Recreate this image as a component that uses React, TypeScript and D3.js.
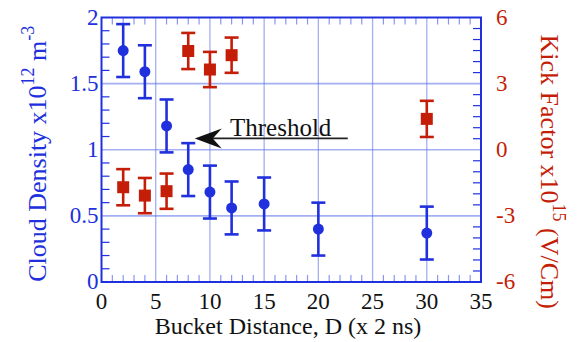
import React from 'react'
import * as d3 from 'd3'

// cloud density (x10^12 m^-3) vs bucket distance
const densityX = [2, 4, 6, 8, 10, 12, 15, 20, 30]
const densityY = [1.75, 1.59, 1.18, 0.85, 0.68, 0.56, 0.59, 0.4, 0.37]
const densityErr = [0.2, 0.2, 0.2, 0.2, 0.2, 0.2, 0.2, 0.2, 0.2]

// kick factor (x10^15 V/Cm)
const kickX = [2, 4, 6, 8, 10, 12, 30]
const kickY = [-1.7, -2.08, -1.88, 4.48, 3.64, 4.29, 1.4]
const kickErr = [0.82, 0.8, 0.8, 0.82, 0.8, 0.8, 0.82]

const xTicks = [0, 5, 10, 15, 20, 25, 30, 35]
const leftTicks = [0, 0.5, 1, 1.5, 2]
const rightTicks = [-6, -3, 0, 3, 6]

const BLUE = '#2030dd'
const RED = '#c41e08'
const GRID = 'rgba(90,110,235,0.55)'
const FONT = 'Liberation Serif'

const W = 580
const H = 342
const m = { left: 101.5, right: 481, top: 17.5, bottom: 282 }

export default function App() {
  const x = d3.scaleLinear().domain([0, 35]).range([m.left, m.right])
  const yL = d3.scaleLinear().domain([0, 2]).range([m.bottom, m.top])
  const yR = d3.scaleLinear().domain([-6, 6]).range([m.bottom, m.top])

  const xMinor = d3.range(1, 35).filter(v => v % 5 !== 0)
  const leftMinor = d3.range(1, 20).filter(v => v % 5 !== 0).map(v => v / 10)
  const rightMinor = d3.range(-11, 12).filter(v => v % 6 !== 0).map(v => v / 2)

  const cap = 7
  const arrowTipX = x(8.6)
  const arrowY = yL(1.086)

  return (
    <svg width={W} height={H} style={{ position: 'absolute', left: 0, top: 0, background: '#fff', fontFamily: FONT }}>
      {/* grid */}
      {xTicks.slice(1, -1).map(t => (
        <line key={'gx' + t} x1={x(t)} x2={x(t)} y1={m.top} y2={m.bottom} stroke={GRID} strokeWidth={1.3} />
      ))}
      {leftTicks.slice(1, -1).map(t => (
        <line key={'gy' + t} x1={m.left} x2={m.right} y1={yL(t)} y2={yL(t)} stroke={GRID} strokeWidth={1.6} />
      ))}

      {/* minor ticks */}
      {xMinor.map(t => (
        <g key={'xm' + t} stroke="rgba(60,80,230,0.6)" strokeWidth={1.2}>
          <line x1={x(t)} x2={x(t)} y1={m.bottom} y2={m.bottom - 7} />
          <line x1={x(t)} x2={x(t)} y1={m.top} y2={m.top + 7} />
        </g>
      ))}
      {leftMinor.map(t => (
        <line key={'lm' + t} x1={m.left} x2={m.left + 8} y1={yL(t)} y2={yL(t)} stroke={BLUE} strokeWidth={1.2} />
      ))}
      {rightMinor.map(t => (
        <line key={'rm' + t} x1={m.right} x2={m.right - 8} y1={yR(t)} y2={yR(t)} stroke={BLUE} strokeWidth={1.2} />
      ))}

      {/* frame */}
      <rect x={m.left} y={m.top} width={m.right - m.left} height={m.bottom - m.top}
        fill="none" stroke={BLUE} strokeWidth={2} />

      {/* tick labels */}
      {xTicks.map(t => (
        <text key={'xl' + t} fontFamily={FONT} x={x(t)} y={309} textAnchor="middle" fontSize={23} fill="#111">{t}</text>
      ))}
      {leftTicks.map(t => (
        <text key={'ll' + t} fontFamily={FONT} x={m.left - 3} y={yL(t) + 7} textAnchor="end" fontSize={23} fill={BLUE}>{t}</text>
      ))}
      {rightTicks.map(t => (
        <text key={'rl' + t} fontFamily={FONT} x={m.right + 15} y={yR(t) + 7} textAnchor="start" fontSize={23} fill={RED}>{t}</text>
      ))}

      {/* kick factor */}
      {kickX.map((d, i) => (
        <g key={'k' + i} stroke={RED} strokeWidth={2.6}>
          <line x1={x(d)} x2={x(d)} y1={yR(kickY[i] - kickErr[i])} y2={yR(kickY[i] + kickErr[i])} />
          <line x1={x(d) - cap} x2={x(d) + cap} y1={yR(kickY[i] - kickErr[i])} y2={yR(kickY[i] - kickErr[i])} />
          <line x1={x(d) - cap} x2={x(d) + cap} y1={yR(kickY[i] + kickErr[i])} y2={yR(kickY[i] + kickErr[i])} />
          <rect x={x(d) - 6} y={yR(kickY[i]) - 6} width={12} height={12} fill={RED} stroke="none" />
        </g>
      ))}

      {/* cloud density */}
      {densityX.map((d, i) => (
        <g key={'d' + i} stroke={BLUE} strokeWidth={2.6}>
          <line x1={x(d)} x2={x(d)} y1={yL(densityY[i] - densityErr[i])} y2={yL(densityY[i] + densityErr[i])} />
          <line x1={x(d) - cap} x2={x(d) + cap} y1={yL(densityY[i] - densityErr[i])} y2={yL(densityY[i] - densityErr[i])} />
          <line x1={x(d) - cap} x2={x(d) + cap} y1={yL(densityY[i] + densityErr[i])} y2={yL(densityY[i] + densityErr[i])} />
          <circle cx={x(d)} cy={yL(densityY[i])} r={5.5} fill={BLUE} stroke="none" />
        </g>
      ))}

      {/* threshold annotation */}
      <line x1={arrowTipX + 8} x2={arrowTipX + 153} y1={arrowY} y2={arrowY} stroke="#222" strokeWidth={1.6} />
      <path d={`M${arrowTipX},${arrowY} L${arrowTipX + 27},${arrowY - 10} L${arrowTipX + 18},${arrowY} L${arrowTipX + 27},${arrowY + 10} Z`}
        fill="#111" />
      <text fontFamily={FONT} x={230} y={136} fontSize={25} fill="#111">Threshold</text>

      {/* axis titles */}
      <text fontFamily={FONT} x={288} y={334} textAnchor="middle" fontSize={24} fill="#111">Bucket Distance, D (x 2 ns)</text>
      <text fontFamily={FONT} transform={`translate(46,${(m.top + m.bottom) / 2 + 4}) rotate(-90)`} textAnchor="middle" fontSize={26} fill={BLUE}>
        Cloud Density x10<tspan dy={-12} fontSize={18}>12</tspan><tspan dy={12}> m</tspan><tspan dy={-12} fontSize={18}>-3</tspan>
      </text>
      <text fontFamily={FONT} transform={`translate(541,${(m.top + m.bottom) / 2 + 22}) rotate(90)`} textAnchor="middle" fontSize={26} fill={RED}>
        Kick Factor x10<tspan dy={-12} fontSize={18}>15</tspan><tspan dy={12}> (V/Cm)</tspan>
      </text>
    </svg>
  )
}
